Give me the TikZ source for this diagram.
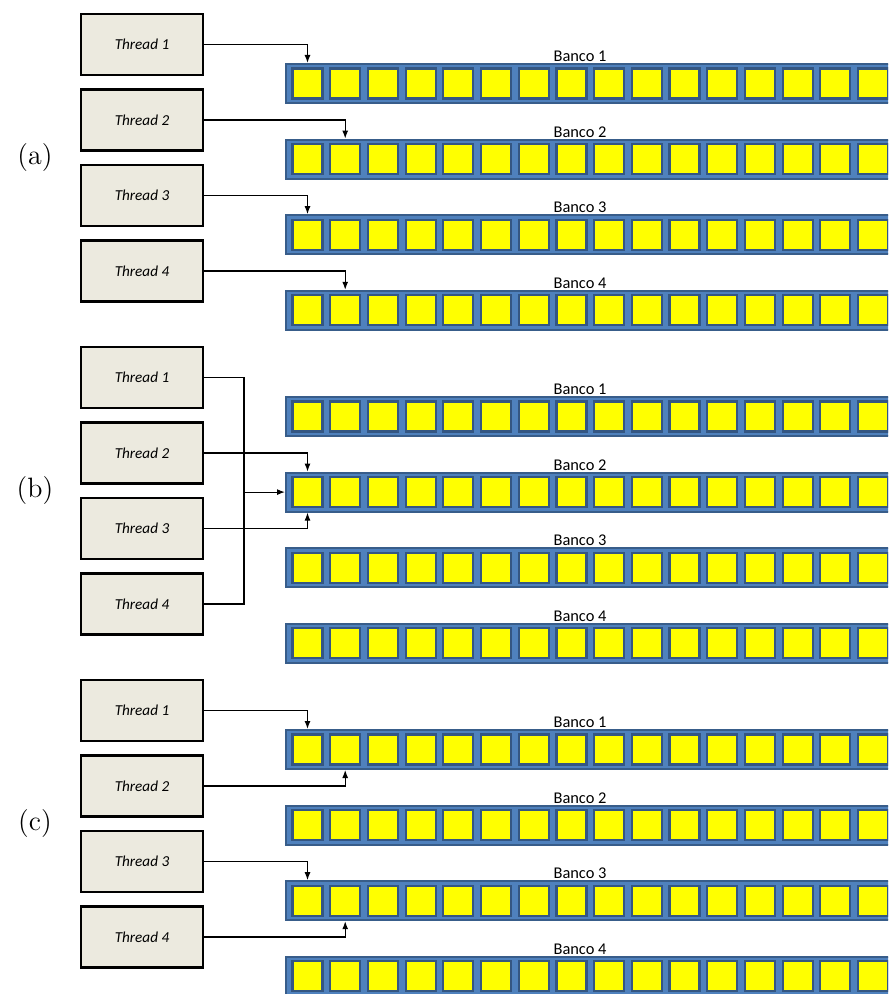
\documentclass[tikz,border=0pt]{standalone}
\usepackage{fontspec}
\newfontfamily\calibri{Carlito}
\usetikzlibrary{arrows.meta}

\definecolor{boxfill}{RGB}{236,234,223}
\definecolor{bankblue}{RGB}{79,129,189}
\definecolor{bankline}{RGB}{56,93,138}
\definecolor{cellline}{RGB}{52,86,130}
\definecolor{cellfill}{RGB}{255,255,0}

\begin{document}
\begin{tikzpicture}[x=0.5pt, y=-0.5pt,
		>={Latex[length=4pt,width=3pt]},   %Pfeilspitzen
		thread/.style={draw, line width=1.2pt, fill=boxfill, minimum width=61pt, minimum height=30.5pt, inner sep=0pt, font=\calibri\itshape\fontsize{7.6}{9}\selectfont},
		bank/.style={draw=bankline, line width=1pt, fill=bankblue, minimum width=310pt, minimum height=19.5pt, inner sep=0pt, anchor=west},
		cell/.style={draw=cellline, line width=1.1pt, fill=cellfill, minimum size=15pt, inner sep=0pt},
		banklabel/.style={font=\calibri\fontsize{8.2}{9}\selectfont, anchor=south, inner sep=1pt},
		grplabel/.style={font=\fontsize{14}{16}\selectfont},
		link/.style={line width=0.6pt}]
		%Bildbereich
		\useasboundingbox (0,0) rectangle (888,994);
		\clip (0,0) rectangle (888,994);
		% Threads und Baenke zeichnen
		\foreach \g [count=\k from 0] in {a,b,c} {
			\pgfmathsetmacro{\yo}{333*\k}
			\node[grplabel] (lab\g) at (35,{158+\yo}) {(\g)};
			\foreach \i in {1,...,4} {
				\node[thread] (\g t\i) at (142,{44.5+75.5*(\i-1)+\yo}) {Thread \i};
				\node[bank] (\g b\i) at (285,{83.5+75.6*(\i-1)+\yo}) {};
				\node[banklabel] (\g l\i) at (580,{64+75.6*(\i-1)+\yo}) {Banco \i};
				\foreach \j in {1,...,17}
					\node[cell] (\g b\i c\j) at ({307.5+37.7*(\j-1)},{83.5+75.6*(\i-1)+\yo}) {};
			}
		}
		% Zugriffe (a)
		\draw[link,->] (at1.east) -| (ab1c1 |- ab1.north);
		\draw[link,->] (at2.east) -| (ab2c2 |- ab2.north);
		\draw[link,->] (at3.east) -| (ab3c1 |- ab3.north);
		\draw[link,->] (at4.east) -| (ab4c2 |- ab4.north);
		% Zugriffe (b)
		\path (bb2.west) ++(-41,0) coordinate (bjoin);
		\draw[link] (bt1.east) -| (bjoin) |- (bt4.east);
		\draw[link,->] (bjoin) -- (bb2.west);
		\draw[link,->] (bt2.east) -| (bb2c1 |- bb2.north);
		\draw[link,->] (bt3.east) -| (bb2c1 |- bb2.south);
		% Zugriffe (c)
		\draw[link,->] (ct1.east) -| (cb1c1 |- cb1.north);
		\draw[link,->] (ct2.east) -| (cb1c2 |- cb1.south);
		\draw[link,->] (ct3.east) -| (cb3c1 |- cb3.north);
		\draw[link,->] (ct4.east) -| (cb3c2 |- cb3.south);
	\end{tikzpicture}
\end{document}
